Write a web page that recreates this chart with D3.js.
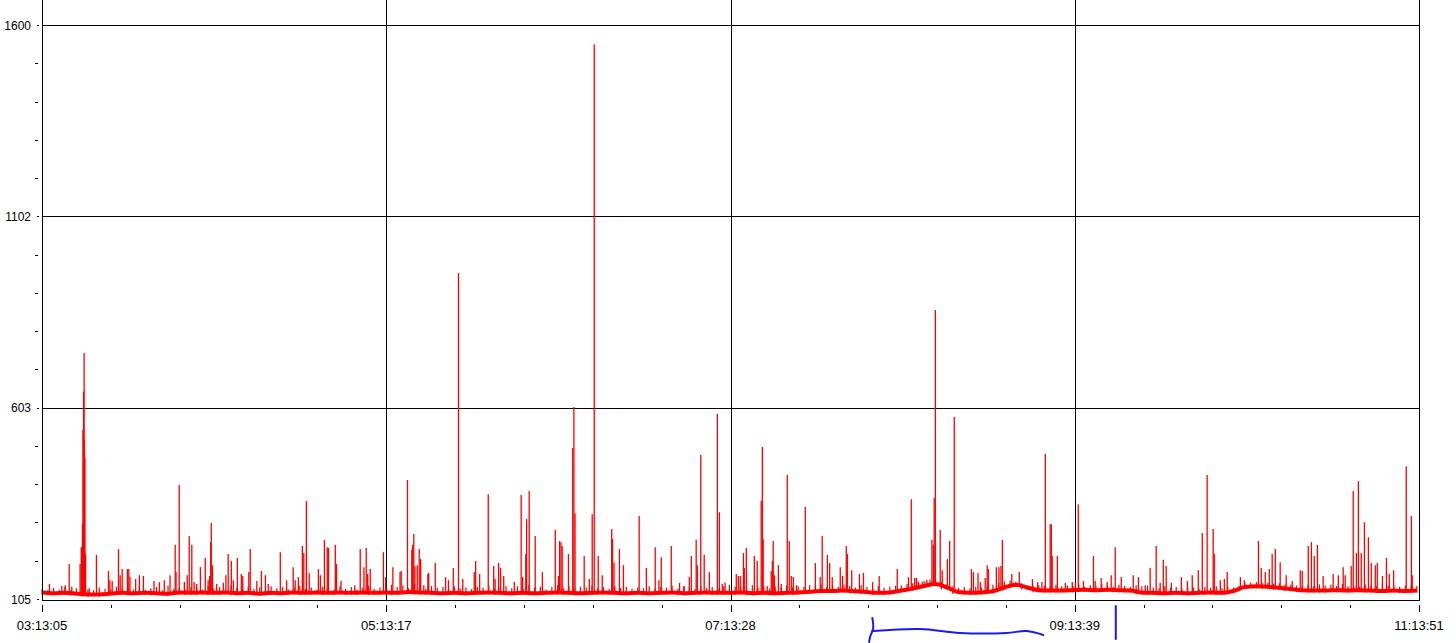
<!DOCTYPE html>
<html>
<head>
<meta charset="utf-8">
<script src="https://cdn.jsdelivr.net/npm/d3@7/dist/d3.min.js"></script>
<style>
    body { margin: 0; background: #fff; }
    svg { display: block; }
</style>
</head>
<body>
<div id="chart"></div>
<script>
// tick labels
const timeLabels = ['03:13:05', '05:13:17', '07:13:28', '09:13:39', '11:13:51'];
const valueTicks = [105, 603, 1102, 1600];

// slow baseline level, one reading every 4 minutes from 03:13:05
const baseStep = 4;
const baseline = [
    122, 120, 121, 119, 117, 117, 119, 121, 120, 121, 120, 119, 122, 121, 122, 121,
    122, 120, 121, 119, 121, 120, 122, 121, 122, 121, 122, 121, 122, 121, 122, 121,
    123, 122, 121, 120, 121, 120, 121, 122, 121, 120, 121, 120, 121, 122, 121, 120,
    121, 122, 121, 120, 121, 120, 121, 122, 120, 121, 122, 121, 121, 122, 120, 121,
    120, 121, 122, 124, 126, 126, 127, 125, 123, 121, 122, 127, 132, 139, 144, 135,
    123, 121, 122, 125, 135, 142, 135, 128, 127, 127, 128, 129, 128, 129, 128, 127,
    122, 121, 120, 121, 120, 121, 122, 121, 126, 136, 138, 137, 134, 131, 128, 127,
    127, 128, 127, 128, 127, 126, 127, 126, 127
];

// small ripple peaks on top of the baseline, one every 2 minutes
const rippleStep = 2;
const ripple = [
    131, 128, 134, 129, 136, 127, 133, 138, 130, 128, 135, 131, 129, 137, 132,
    134, 130, 138, 129, 133, 136, 128, 140, 131, 135, 129, 137, 133, 130, 139,
    132, 136, 129, 141, 134, 130, 137, 131, 135, 129, 138, 133, 136, 130, 134,
    139, 131, 135, 129, 137, 133, 130, 138, 132, 136, 129, 134, 140, 131, 135,
    138, 142, 136, 140, 133, 145, 137, 131, 139, 134, 136, 130, 138, 133, 135,
    131, 137, 134, 140, 132, 136, 139, 133, 138, 131, 142, 135, 137, 130, 136,
    141, 134, 138, 132, 137, 135, 140, 133, 136, 131, 139, 134, 137, 132, 135,
    133, 138, 131, 136, 134, 140, 132, 137, 135, 131, 139, 134, 136, 133, 138,
    142, 136, 139, 133, 141, 135, 138, 132, 137, 134, 140, 135, 138, 136, 141,
    138, 143, 137, 140, 136, 142, 139, 135, 141, 136, 133, 138, 134, 137, 139,
    141, 144, 146, 150, 152, 155, 153, 149, 144, 138, 134, 136, 133, 137, 135,
    138, 142, 147, 151, 153, 150, 146, 140, 138, 141, 139, 137, 142, 138, 140,
    139, 143, 137, 141, 138, 144, 140, 137, 142, 139, 136, 141, 138, 140, 135,
    133, 138, 134, 136, 132, 137, 135, 131, 136, 134, 138, 133, 137, 135, 139,
    146, 148, 149, 147, 148, 145, 146, 143, 142, 140, 139, 141, 138, 143, 140,
    142, 139, 144, 138, 141, 137, 143, 140, 138, 142, 139, 141, 137, 140, 138,
    139
];

// spikes: [minutes after 03:13:05, value]
const spikes = [
    [2.6,144],[6.9,139],[8.1,141],[9.5,196],[10.4,137],[13.3,196],[13.7,240],[13.9,240],
    [14.1,300],[14.3,545],[14.5,645],[14.7,746],[14.8,520],[15.0,472],[15.2,222],[16.5,133],
    [19.0,220],[23.2,178],[23.7,154],[24.5,152],[26.7,235],[27.3,167],[28.0,183],[29.8,183],
    [30.3,183],[30.7,163],[32.7,157],[34.0,167],[35.4,165],[39.1,152],[41.0,149],[42.7,154],
    [44.7,167],[46.5,246],[46.8,175],[47.9,402],[49.7,149],[50.7,167],[51.4,269],[52.3,246],
    [53.1,149],[54.0,144],[55.3,188],[57.0,212],[58.0,154],[58.5,165],[58.9,253],[59.1,303],
    [59.5,193],[61.0,144],[63.3,147],[64.2,167],[65.0,222],[66.1,204],[66.8,154],[68.2,212],
    [69.6,170],[70.1,165],[72.2,175],[72.7,235],[75.0,152],[76.6,178],[78.0,167],[79.0,144],
    [83.2,227],[85.4,154],[87.7,188],[88.4,154],[89.5,162],[90.9,243],[91.4,225],[92.3,360],
    [93.3,173],[96.5,183],[97.2,167],[98.6,259],[99.6,240],[100.0,238],[102.4,246],[102.8,196],
    [104.4,152],[109.2,141],[111.1,235],[112.4,188],[113.2,238],[113.7,170],[114.6,183],[119.2,227],
    [120.0,162],
    [122.5,188],[125.0,175],[125.4,178],[127.6,415],[129.1,233],[129.4,246],[129.8,274],[130.2,191],
    [131.0,193],[131.7,235],[132.2,209],[133.3,141],[134.7,170],[135.0,173],[137.3,199],[140.9,162],
    [141.9,154],[143.6,186],[145.4,954],[146.9,157],[150.9,175],[151.4,204],[152.8,170],[155.8,378],
    [157.7,191],[158.2,157],[159.4,199],[160.1,186],[161.2,165],[164.9,149],[167.3,376],[167.8,162],
    [168.9,222],[169.2,313],[170.1,386],[172.2,269],[174.7,175],[179.2,285],[180.3,165],[180.7,256],
    [181.2,253],[181.6,243],[183.8,222],[185.3,498],[185.7,605],[186.1,328],[189.3,217],[191.1,157],
    [192.1,326],[192.8,1550],[194.2,217],[195.6,167],[198.9,287],[199.2,261],[199.7,201],[201.6,235],
    [203.0,193],[208.5,321],[211.0,186],[214.1,240],[215.4,154],[216.2,214],[219.7,243],[222.6,147],
    [224.2,139],[226.0,162],[226.7,217],[228.4,259],[228.8,193],[230.0,480],[231.2,220],[233.0,175],
    [235.8,587],[236.5,331],[237.5,144],[238.5,147],
    [242.4,170],[243.1,165],[243.8,165],[244.9,225],[245.2,186],[245.9,238],[248.7,217],[249.7,204],
    [251.1,360],[251.5,501],[251.8,261],[253.2,139],[254.6,178],[255.0,204],[255.3,256],[255.7,167],
    [257.1,193],[258.1,144],[260.2,428],[260.9,256],[261.6,165],[262.3,162],[263.4,141],[266.5,345],
    [270.0,199],[271.7,162],[272.4,269],[274.2,220],[275.0,199],[275.9,162],[278.7,188],[279.5,165],
    [280.8,243],[281.2,222],[282.7,180],[285.4,170],[286.8,173],[290.0,149],[292.3,165],[298.6,183],
    [302.5,162],[303.5,365],[304.7,160],[305.3,160],[307.3,150],[308.9,155],[310.7,259],[311.2,246],
    [311.5,368],[311.9,858],[313.6,285],[314.3,180],[316.1,209],[316.9,256],[318.5,579],[324.5,183],
    [325.2,175],[326.8,173],[327.6,149],[329.3,160],[330.0,193],[330.4,183],[333.2,188],[334.1,188],
    [334.8,191],[335.3,259],[338.6,170],[341.2,175],[345.8,157],[347.6,149],[349.1,149],[350.3,483],
    [352.0,300],[352.4,300],[352.7,217],[354.5,217],[357.3,147],[359.7,149],
    [360.8,147],[361.8,352],[363.6,152],[367.1,217],[367.7,152],[369.8,160],[371.9,149],[373.3,167],
    [374.7,240],[376.8,162],[381.0,167],[382.8,162],[385.2,141],[386.9,186],[389.0,243],[390.4,147],
    [391.5,207],[392.5,191],[394.3,147],[397.8,162],[399.9,152],[401.6,167],[403.7,180],[405.1,277],
    [406.8,428],[408.9,287],[409.3,222],[411.4,154],[412.8,157],[413.8,175],[418.4,162],[419.8,154],
    [424.7,256],[425.7,186],[427.1,175],[428.5,183],[429.5,222],[430.6,235],[432.3,201],[434.4,167],
    [436.5,152],[439.3,180],[440.0,178],[442.1,243],[443.2,253],[444.2,217],[445.3,246],[447.3,165],
    [450.8,170],[452.6,167],[454.3,188],[455.0,167],[457.1,191],[457.8,386],[458.9,225],[459.6,412],
    [460.6,225],[461.7,305],[463.1,266],[464.1,199],[465.5,193],[466.2,199],[468.0,165],[469.4,212],
    [470.4,170],[471.9,180],[476.3,451],[478.1,321],[478.4,167]
];

// hand drawn blue marks under the axis: [minutes, px below the axis]
const braceHook = [[289.9, 18], [290.2, 28], [289.1, 37], [288.8, 42]];
const braceLine = [[290.2, 31], [306.5, 29], [320.5, 33], [336.8, 33], [343.8, 31], [349.6, 35]];
const markLine = [[374.9, 6], [374.9, 39]];

const width = 1456, height = 643;
const left = 42, right = 1419, bottom = 600;

const svg = d3.select('#chart').append('svg')
    .attr('width', width)
    .attr('height', height)
    .style('font-family', '"Liberation Sans", Arial, sans-serif');

const parseTime = d3.timeParse('%H:%M:%S');
const tickTimes = timeLabels.map(parseTime);
const t0 = tickTimes[0];
const toDate = m => new Date(t0.getTime() + m * 60000);

const x = d3.scaleTime()
    .domain([tickTimes[0], tickTimes[tickTimes.length - 1]])
    .range([left, right]);
const y = d3.scaleLinear()
    .domain([105, 1600])
    .range([599, 25]);

// grid
const grid = svg.append('g').attr('stroke', '#000').attr('stroke-width', 1).attr('shape-rendering', 'crispEdges');
grid.selectAll('.hg').data(valueTicks.slice(1)).enter().append('line')
    .attr('x1', left).attr('x2', right)
    .attr('y1', d => Math.round(y(d)) + 0.5).attr('y2', d => Math.round(y(d)) + 0.5);
grid.selectAll('.vg').data(tickTimes.slice(1)).enter().append('line')
    .attr('y1', 0).attr('y2', bottom)
    .attr('x1', d => Math.round(x(d)) + 0.5).attr('x2', d => Math.round(x(d)) + 0.5);

// series
const series = svg.append('g');
const baseAt = m => baseline[Math.min(baseline.length - 1, Math.round(m / baseStep))];

series.append('path')
    .datum(baseline)
    .attr('fill', 'none')
    .attr('stroke', '#ff0000')
    .attr('stroke-width', 4)
    .attr('d', d3.line().x((d, i) => x(toDate(i * baseStep))).y(d => y(d)).curve(d3.curveMonotoneX));

series.selectAll('.ripple').data(ripple).enter().append('line')
    .attr('stroke', '#ff0000')
    .attr('stroke-width', 1.2)
    .attr('x1', (d, i) => x(toDate(i * rippleStep)))
    .attr('x2', (d, i) => x(toDate(i * rippleStep)))
    .attr('y1', (d, i) => y(baseAt(i * rippleStep)) + 2)
    .attr('y2', d => y(d));

series.selectAll('.spike').data(spikes).enter().append('line')
    .attr('stroke', '#ff0000')
    .attr('stroke-width', 1.3)
    .attr('x1', d => x(toDate(d[0])))
    .attr('x2', d => x(toDate(d[0])))
    .attr('y1', d => y(baseAt(d[0])))
    .attr('y2', d => y(d[1]));

// axes lines
const axes = svg.append('g').attr('stroke', '#000').attr('shape-rendering', 'crispEdges');
axes.append('line').attr('x1', left + 0.5).attr('x2', left + 0.5).attr('y1', 0).attr('y2', bottom + 1);
axes.append('line').attr('x1', right + 0.5).attr('x2', right + 0.5).attr('y1', 0).attr('y2', bottom + 1);
axes.append('line').attr('x1', left).attr('x2', right + 1).attr('y1', bottom + 0.5).attr('y2', bottom + 0.5);

// y ticks
const yMinor = d3.range(1, 15).filter(k => k % 5 !== 0).map(k => 105 + k * (1600 - 105) / 15);
axes.selectAll('.ymin').data(yMinor).enter().append('line')
    .attr('x1', 35).attr('x2', 38)
    .attr('y1', d => Math.round(y(d)) + 0.5).attr('y2', d => Math.round(y(d)) + 0.5);
axes.selectAll('.ymaj').data(valueTicks).enter().append('line')
    .attr('x1', 37).attr('x2', 39)
    .attr('y1', d => Math.round(y(d)) + 0.5).attr('y2', d => Math.round(y(d)) + 0.5);
svg.selectAll('.ylab').data(valueTicks).enter().append('text')
    .attr('x', 31)
    .attr('y', d => y(d) + 4.5)
    .attr('text-anchor', 'end')
    .attr('font-size', 12)
    .text(d => d);

// x ticks
const span = (tickTimes[1] - tickTimes[0]);
const xMinor = [];
tickTimes.slice(0, -1).forEach(t => {
    for (let k = 1; k < 5; k++) xMinor.push(new Date(t.getTime() + span * k / 5));
});
axes.selectAll('.xmin').data(xMinor).enter().append('line')
    .attr('y1', 605).attr('y2', 608)
    .attr('x1', d => Math.round(x(d)) + 0.5).attr('x2', d => Math.round(x(d)) + 0.5);
axes.selectAll('.xmaj').data(tickTimes).enter().append('line')
    .attr('y1', 605).attr('y2', 612)
    .attr('x1', d => Math.round(x(d)) + 0.5).attr('x2', d => Math.round(x(d)) + 0.5);
svg.selectAll('.xlab').data(timeLabels).enter().append('text')
    .attr('x', (d, i) => x(tickTimes[i]))
    .attr('y', 630)
    .attr('text-anchor', 'middle')
    .attr('font-size', 13)
    .text(d => d);

// blue ink marks
const ink = d3.line().x(d => x(toDate(d[0]))).y(d => bottom + d[1]).curve(d3.curveCatmullRom);
svg.selectAll('.ink').data([braceHook, braceLine, markLine]).enter().append('path')
    .attr('fill', 'none')
    .attr('stroke', '#1a1aee')
    .attr('stroke-width', 2)
    .attr('stroke-linecap', 'round')
    .attr('d', ink);
</script>
</body>
</html>
